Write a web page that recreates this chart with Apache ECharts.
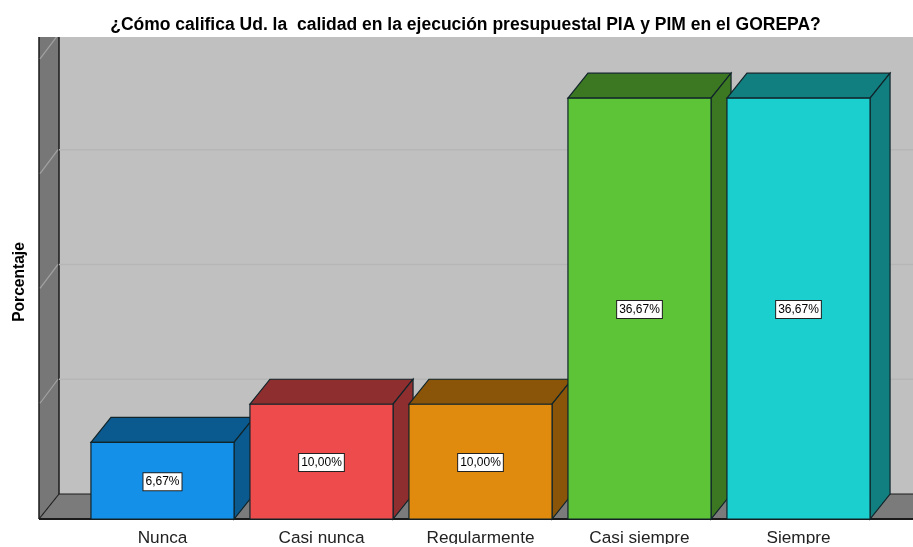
<!DOCTYPE html>
<html>
<head>
<meta charset="utf-8">
<title>Calidad en la ejecución presupuestal</title>
<script src="https://cdn.jsdelivr.net/npm/echarts@6/dist/echarts.min.js"></script>
<style>
  html, body { margin: 0; padding: 0; background: #fff; }
  #chart { width: 913px; height: 547px; }
</style>
</head>
<body>
<div id="chart"></div>
<script>
var categories = ['Nunca', 'Casi nunca', 'Regularmente', 'Casi siempre', 'Siempre'];
var percentages = [6.67, 10.00, 10.00, 36.67, 36.67];
var gridValues = [10, 20, 30, 40];
var frontColors = ['#1490e8', '#ee4c4c', '#e08a0e', '#5dc438', '#1bcfcf'];
var sideColors = ['#0a5a90', '#8e2e2e', '#8a5508', '#3c7822', '#117f7f'];

// 3d depth of the box, in pixels
var depthX = 20;
var depthY = 25;
var wallLeft = 39;
var wallRight = 913;
var wallTop = 37;

function poly(points, fill, stroke, width) {
  return {
    type: 'polygon',
    shape: { points: points },
    style: { fill: fill, stroke: stroke, lineWidth: width }
  };
}

function edgeLine(x1, y1, x2, y2, width) {
  return {
    type: 'line',
    shape: { x1: x1, y1: y1, x2: x2, y2: y2 },
    style: { stroke: '#1a1a1a', lineWidth: width }
  };
}

function renderWalls(params, api) {
  var bottom = api.coord([0, 0])[1];
  var backX = wallLeft + depthX;
  var backY = bottom - depthY;
  return {
    type: 'group',
    children: [
      poly([[backX, wallTop], [wallRight, wallTop], [wallRight, backY], [backX, backY]], '#c0c0c0', 'none', 0),
      poly([[wallLeft, wallTop], [backX, wallTop], [backX, backY], [wallLeft, bottom]], '#777777', 'none', 0),
      poly([[wallLeft, bottom], [backX, backY], [wallRight, backY], [wallRight, bottom]], '#7b7b7b', 'none', 0),
      edgeLine(wallLeft, wallTop, wallLeft, bottom, 1.5),
      edgeLine(backX, wallTop, backX, backY, 1.5),
      edgeLine(wallLeft, bottom, backX, backY, 1.2),
      edgeLine(backX, backY, wallRight, backY, 1.2),
      edgeLine(wallLeft, bottom, wallRight, bottom, 2)
    ]
  };
}

function renderGridLine(params, api) {
  var y = api.coord([0, api.value(0)])[1];
  return {
    type: 'group',
    children: [
      {
        type: 'line',
        shape: { x1: wallLeft + depthX, y1: y - depthY, x2: wallRight, y2: y - depthY },
        style: { stroke: '#b6b6b6', lineWidth: 1.5 }
      },
      {
        type: 'line',
        shape: { x1: wallLeft + 1, y1: y - 1, x2: wallLeft + depthX - 1, y2: y - depthY },
        style: { stroke: '#a2a2a2', lineWidth: 1.2 }
      }
    ],
    clipPath: {
      type: 'rect',
      shape: { x: wallLeft, y: wallTop, width: wallRight - wallLeft, height: 500 }
    }
  };
}

function renderBar(params, api) {
  var i = api.value(0);
  var val = api.value(1);
  var top = api.coord([i, val]);
  var base = api.coord([i, 0]);
  var w = api.size([1, 0])[0] * 0.9;
  var l = top[0] - w / 2;
  var r = top[0] + w / 2;
  var edge = '#10242a';
  return {
    type: 'group',
    children: [
      poly([[l, top[1]], [l + depthX, top[1] - depthY], [r + depthX, top[1] - depthY], [r, top[1]]], sideColors[i], edge, 1.2),
      poly([[r, top[1]], [r + depthX, top[1] - depthY], [r + depthX, base[1] - depthY], [r, base[1]]], sideColors[i], edge, 1.2),
      poly([[l, top[1]], [r, top[1]], [r, base[1]], [l, base[1]]], frontColors[i], edge, 1.2),
      {
        type: 'text',
        x: top[0],
        y: (top[1] + base[1]) / 2 + 1,
        style: {
          text: val.toFixed(2).replace('.', ',') + '%',
          fontFamily: 'Liberation Sans',
          fontSize: 12,
          fill: '#000',
          align: 'center',
          verticalAlign: 'middle',
          backgroundColor: '#fff',
          borderColor: '#222',
          borderWidth: 1,
          padding: [3, 2, 2, 2]
        }
      }
    ]
  };
}

var chart = echarts.init(document.getElementById('chart'));
chart.setOption({
  animation: false,
  backgroundColor: '#fff',
  title: {
    text: '¿Cómo califica Ud. la  calidad en la ejecución presupuestal PIA y PIM en el GOREPA?',
    left: 460.5,
    textAlign: 'center',
    top: 11,
    textStyle: { fontFamily: 'Liberation Sans', fontSize: 17.5, fontWeight: 'bold', color: '#000' }
  },
  grid: { left: 83, width: 795, top: 37, height: 482 },
  xAxis: {
    type: 'category',
    data: categories,
    axisLine: { show: false },
    axisTick: { show: false },
    axisLabel: {
      margin: 11,
      fontFamily: 'Liberation Sans',
      fontSize: 17.2,
      color: '#222'
    }
  },
  yAxis: {
    type: 'value',
    min: 0,
    max: 42,
    name: 'Porcentaje',
    nameLocation: 'middle',
    nameGap: 55,
    nameRotate: 90,
    nameTextStyle: {
      fontFamily: 'Liberation Sans',
      fontSize: 15.6,
      fontWeight: 'bold',
      color: '#000',
      padding: [0, 0, 0, -8]
    },
    axisLine: { show: false },
    axisTick: { show: false },
    axisLabel: { show: false },
    splitLine: { show: false }
  },
  graphic: [
    // the source image is cut just under the labels
    { type: 'rect', z: 100, shape: { x: 0, y: 544, width: 913, height: 3 }, style: { fill: '#fff' } }
  ],
  series: [
    { type: 'custom', z: 1, silent: true, renderItem: renderWalls, data: [[0]], encode: { x: -1, y: -1 } },
    { type: 'custom', z: 2, silent: true, renderItem: renderGridLine, data: gridValues.map(function (v) { return [v]; }), encode: { x: -1, y: 0 } },
    {
      type: 'custom',
      z: 3,
      renderItem: renderBar,
      data: percentages.map(function (v, i) { return [i, v]; }),
      encode: { x: 0, y: 1 }
    }
  ]
});
</script>
</body>
</html>
